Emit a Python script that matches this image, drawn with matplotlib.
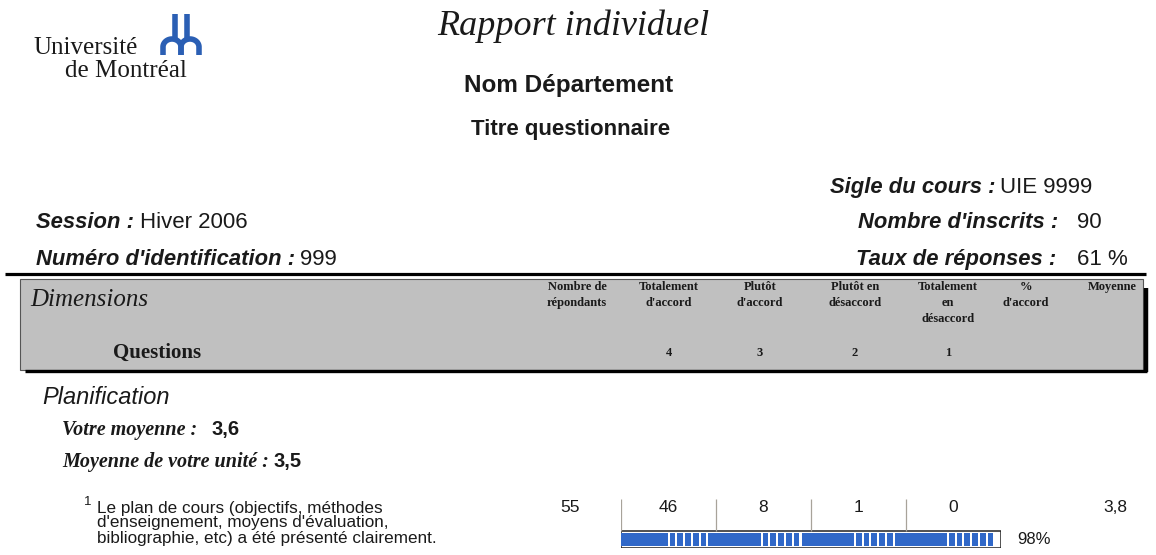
import matplotlib
matplotlib.use("Agg")
import matplotlib.pyplot as plt
from matplotlib.patches import Rectangle
import numpy as np

W, H = 1156, 555

# report values
session = "Hiver 2006"
ident = "999"
sigle = "UIE 9999"
inscrits = "90"
taux = "61 %"
col_labels = ["Nombre de\nrépondants", "Totalement\nd'accord", "Plutôt\nd'accord",
              "Plutôt en\ndésaccord", "Totalement\nen\ndésaccord", "%\nd'accord", "Moyenne"]
scale_codes = ["4", "3", "2", "1"]
dimension = "Planification"
votre_moyenne = "3,6"
moyenne_unite = "3,5"
question_num = "1"
question_lines = ["Le plan de cours (objectifs, méthodes",
                  "d'enseignement, moyens d'évaluation,",
                  "bibliographie, etc) a été présenté clairement."]
n_repondants = 55
counts = [46, 8, 1, 0]
pct_accord = 98
moyenne_q = "3,8"

plt.rcParams['font.family'] = ['Liberation Sans', 'DejaVu Sans']
ink = '#1a1a1a'
blue = '#3068c8'

fig = plt.figure(figsize=(W / 100, H / 100), dpi=100)
ax = fig.add_axes([0, 0, 1, 1])
ax.set_xlim(0, W)
ax.set_ylim(H, 0)
ax.axis('off')
renderer = fig.canvas.get_renderer()

SERIF = ['Liberation Serif', 'DejaVu Serif']
lab = dict(fontsize=15.8, fontweight='bold', fontstyle='italic', color=ink)
val = dict(fontsize=16, color=ink)


def runs(x, y, parts, va='baseline'):
    # draw consecutive pieces of text, each one after the previous
    for s, style, gap in parts:
        t = ax.text(x, y, s, va=va, **style)
        x = t.get_window_extent(renderer).x1 + gap
    return x


# logo
ax.text(33, 54, "Université", family=SERIF, fontsize=18, color=ink)
ax.text(65, 77, "de Montréal", family=SERIF, fontsize=18, color=ink)
lblue = '#2b5fb4'
t = np.linspace(0, np.pi, 40)
for cx in (172, 190):
    ax.plot(np.r_[cx - 9, cx - 9 + 9 * (1 - np.cos(t)), cx + 9],
            np.r_[55, 47 - 8 * np.sin(t), 55], color=lblue, lw=4,
            solid_capstyle='butt')
for sx in (174.5, 186.5):
    ax.plot([sx, sx], [14, 40], color=lblue, lw=4, solid_capstyle='butt')

# titles
ax.text(573, 35, "Rapport individuel", family=SERIF, fontstyle='italic',
        fontsize=26, ha='center', color=ink)
ax.text(569, 92, "Nom Département", fontsize=17.5, fontweight='bold',
        ha='center', color=ink)
ax.text(571, 135, "Titre questionnaire", fontsize=16, fontweight='bold',
        ha='center', color=ink)

# info lines
runs(830, 193, [("Sigle du cours :", lab, 5), (sigle, val, 0)])
runs(36, 228, [("Session :", lab, 6), (session, val, 0)])
runs(36, 265, [("Numéro d'identification :", lab, 5), (ident, val, 0)])
ax.text(858, 228, "Nombre d'inscrits :", **lab)
ax.text(1077, 228, inscrits, **val)
ax.text(856, 265, "Taux de réponses :", **lab)
ax.text(1077, 265, taux, **val)

# rule and header box
ax.plot([5, 1146], [274, 274], color='black', lw=2.3, solid_capstyle='butt')
ax.add_patch(Rectangle((20, 279), 1123, 91, facecolor='#c0c0c0',
                       edgecolor='#555555', lw=0.8))
ax.plot([1145.5, 1145.5], [288, 372], color='black', lw=3.2, solid_capstyle='butt')
ax.plot([25, 1147], [371, 371], color='black', lw=2.4, solid_capstyle='butt')

ax.text(30, 300, "Dimensions", family=SERIF, fontstyle='italic', fontsize=18,
        va='center', color=ink)
ax.text(113, 353, "Questions", family=SERIF, fontweight='bold', fontsize=15,
        va='center', color=ink)

col_x = [577, 669, 760, 855, 948, 1026, 1112]
for cx, lbl in zip(col_x, col_labels):
    for i, line in enumerate(lbl.split("\n")):
        ax.text(cx, 287 + 16 * i, line, family=SERIF, fontweight='bold',
                fontsize=9, ha='center', va='center', color=ink)
for cx, code in zip(col_x[1:5], scale_codes):
    ax.text(cx, 353, code, family=SERIF, fontweight='bold', fontsize=9,
            ha='center', va='center', color=ink)

# dimension block
ax.text(42, 397, dimension, fontstyle='italic', fontsize=17, va='center', color=ink)
sl = dict(family=SERIF, fontweight='bold', fontstyle='italic', fontsize=14.5, color=ink)
sv = dict(fontweight='bold', fontsize=14.5, color=ink)
runs(62, 430, [("Votre moyenne :", sl, 14), (votre_moyenne, sv, 0)], va='center')
runs(62, 462, [("Moyenne de votre unité :", sl, 5), (moyenne_unite, sv, 0)], va='center')

# question
ax.text(84, 502, question_num, fontsize=9.5, va='center', color=ink)
for i, line in enumerate(question_lines):
    ax.text(97, 508 + 15 * i, line, fontsize=12.3, va='center', color=ink)
ax.text(570, 508, str(n_repondants), fontsize=12.5, ha='center', va='center', color=ink)
ax.text(1115, 508, moyenne_q, fontsize=12.5, ha='center', va='center', color=ink)
ax.text(1017, 540, f"{pct_accord}%", fontsize=12, va='center', color=ink)

# answer distribution and agreement bar
bx = fig.add_axes([621 / W, (H - 548) / H, 380 / W, 49 / H])
bx.set_xlim(0, 100)
bx.set_ylim(0, 49)
bx.axis('off')
n = len(counts)
step = 100 / n
bx.vlines([i * step for i in range(n)], 17, 49, color='#a8a39a', lw=0.9)
for i, c in enumerate(counts):
    bx.text((i + 0.5) * step, 40, str(c), fontsize=12.5, ha='center',
            va='center', color=ink)
bx.add_patch(Rectangle((0, 0.5), 100, 16.5, facecolor='white',
                       edgecolor='#222222', lw=1.1))
block = pct_accord / n
half = block / 2
gap = 0.55
for b in range(n):
    start = b * block
    bx.barh(8.75, half, left=start, height=12.5, color=blue, lw=0)
    sub = half / 6
    lefts = start + half + np.arange(6) * sub + gap
    bx.barh([8.75] * 6, [sub - gap] * 6, left=lefts, height=12.5, color=blue, lw=0)

fig.savefig("out.png", dpi=100, facecolor='white')
